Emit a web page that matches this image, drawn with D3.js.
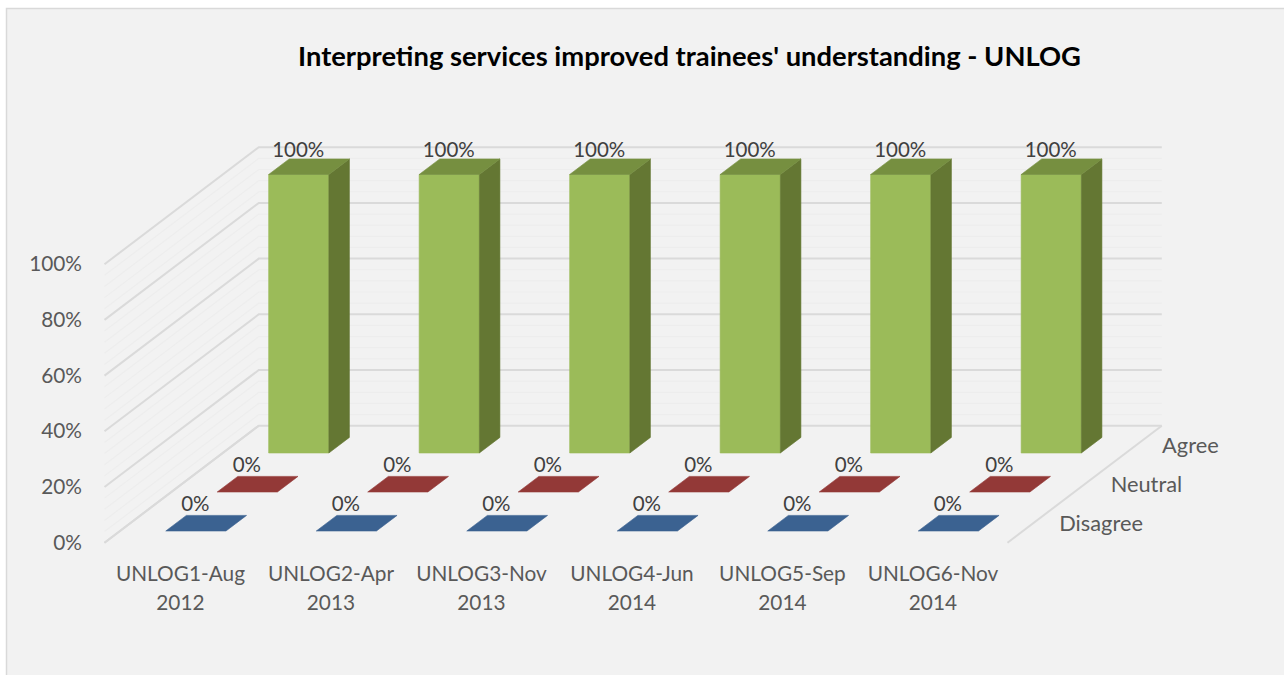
<!DOCTYPE html>
<html><head><meta charset="utf-8">
<script src="https://cdn.jsdelivr.net/npm/d3@7/dist/d3.min.js"></script>
<style>html,body{margin:0;padding:0;background:#fff;overflow:hidden}svg{display:block}text{font-family:Lato,"Open Sans",sans-serif}</style>
</head><body><svg id="c" width="1284" height="675"></svg>
<script>
const title = "Interpreting services improved trainees' understanding - UNLOG";
const categories = ["UNLOG1-Aug 2012","UNLOG2-Apr 2013","UNLOG3-Nov 2013","UNLOG4-Jun 2014","UNLOG5-Sep 2014","UNLOG6-Nov 2014"];
const seriesNames = ["Disagree","Neutral","Agree"];
const disagree = [0,0,0,0,0,0];
const neutral = [0,0,0,0,0,0];
const agree = [1,1,1,1,1,1];
const yTicks = [0,0.2,0.4,0.6,0.8,1];
const minorTicks = d3.range(0,26).map(i=>i*0.04).filter(v=>v<=1.0001);
const seriesValues = {Disagree:disagree,Neutral:neutral,Agree:agree};
const seriesColors = {
  Disagree:{front:"#3b6291",top:"#3b6291",side:"#2f4e74"},
  Neutral:{front:"#943634",top:"#933937",side:"#762b2a"},
  Agree:{front:"#9bbb59",top:"#768f40",side:"#647733"}
};

const svg = d3.select("#c");
const W=1284,H=675;
svg.append("rect").attr("x",6.5).attr("y",8.5).attr("width",W).attr("height",H)
  .attr("fill","#f2f2f2").attr("stroke","#d9d9d9").attr("stroke-width",1.5);

// plot frame
const floorFront=542.7, frontL=104.5, frontR=1007.5, depthDX=154.3, depthDY=117;
const x=d3.scaleBand().domain(categories).range([frontL+0.7,frontR+0.7]).paddingInner(0.6).paddingOuter(0.3);
const z=d3.scaleBand().domain(seriesNames).range([0,1]).paddingInner(0.6).paddingOuter(0.3);
const h=d3.scaleLinear().domain([0,1]).range([0,278.5]);
const proj=(sx,d,v)=>[sx+d*depthDX, floorFront-d*depthDY-h(v)];
const line=d3.line();

// walls
const walls=svg.append("g").attr("fill","none");
function gridLine(v,stroke,sw){
  walls.append("path").attr("d",line([proj(frontL,0,v),proj(frontL,1,v),proj(frontR,1,v)]))
    .attr("stroke",stroke).attr("stroke-width",sw);
}
minorTicks.filter(v=>!yTicks.some(t=>Math.abs(t-v)<1e-6)).forEach(v=>gridLine(v,"#ededed",1.2));
yTicks.forEach(v=>gridLine(v,"#dadada",2));
walls.append("path").attr("d",line([proj(frontL,0,0),proj(frontL,1,0)])).attr("stroke","#dadada").attr("stroke-width",2);
walls.append("path").attr("d",line([proj(frontR,0,0),proj(frontR,1,0)])).attr("stroke","#dadada").attr("stroke-width",2);

// bars, back to front
const barsG=svg.append("g");
const labelG=svg.append("g");
seriesNames.slice().reverse().forEach(s=>{
  const col=seriesColors[s], vals=seriesValues[s];
  const d0=z(s), d1=z(s)+z.bandwidth();
  categories.forEach((c,i)=>{
    const v=vals[i], l=x(c), r=x(c)+x.bandwidth();
    const g=barsG.append("g");
    const poly=(pts,f)=>g.append("path").attr("d",line(pts)+"Z").attr("fill",f).attr("stroke",f).attr("stroke-width",0.6);
    if(v>0){
      poly([proj(l,d0,0),proj(r,d0,0),proj(r,d0,v),proj(l,d0,v)],col.front);
      poly([proj(r,d0,0),proj(r,d1,0),proj(r,d1,v),proj(r,d0,v)],col.side);
    }
    poly([proj(l,d0,v),proj(r,d0,v),proj(r,d1,v),proj(l,d1,v)],col.top);
    const p=proj((l+r)/2,d0,v);
    labelG.append("text").attr("x",p[0]-0.5).attr("y",p[1]-(v>0?26:28)).attr("text-anchor","middle")
      .attr("dominant-baseline","central").attr("font-size",20.5).attr("fill","#404040")
      .text(d3.format(".0%")(v));
  });
});

// value axis
const yAxisScale=d3.scaleLinear().domain([0,1]).range([floorFront,floorFront-h(1)]);
const yAxis=svg.append("g").attr("transform","translate(82,-0.2)")
  .call(d3.axisLeft(yAxisScale).tickValues(yTicks).tickFormat(d3.format(".0%")).tickSize(0).tickPadding(0));
yAxis.select(".domain").remove();
yAxis.selectAll("text").attr("font-size",20.8).attr("fill","#595959").style("font-family","Lato");

// category labels
categories.forEach(c=>{
  const cx=x(c)+x.bandwidth()/2;
  const sp=c.lastIndexOf(" ");
  [c.slice(0,sp),c.slice(sp+1)].forEach((t,j)=>{
    svg.append("text").attr("x",cx).attr("y",572+j*29).attr("text-anchor","middle")
      .attr("dominant-baseline","central").attr("font-size",20.8).attr("fill","#595959").text(t);
  });
});

// depth labels
seriesNames.forEach(s=>{
  const p=proj(frontR,z(s)+z.bandwidth()/2,0);
  svg.append("text").attr("x",p[0]+26).attr("y",p[1]-1).attr("dominant-baseline","central")
    .attr("font-size",21.8).attr("fill","#595959").text(s);
});

svg.append("text").attr("x",689.5).attr("y",55.5).attr("text-anchor","middle").attr("dominant-baseline","central")
  .attr("font-size",27.35).attr("font-weight",700).attr("fill","#000").text(title);
</script></body></html>
